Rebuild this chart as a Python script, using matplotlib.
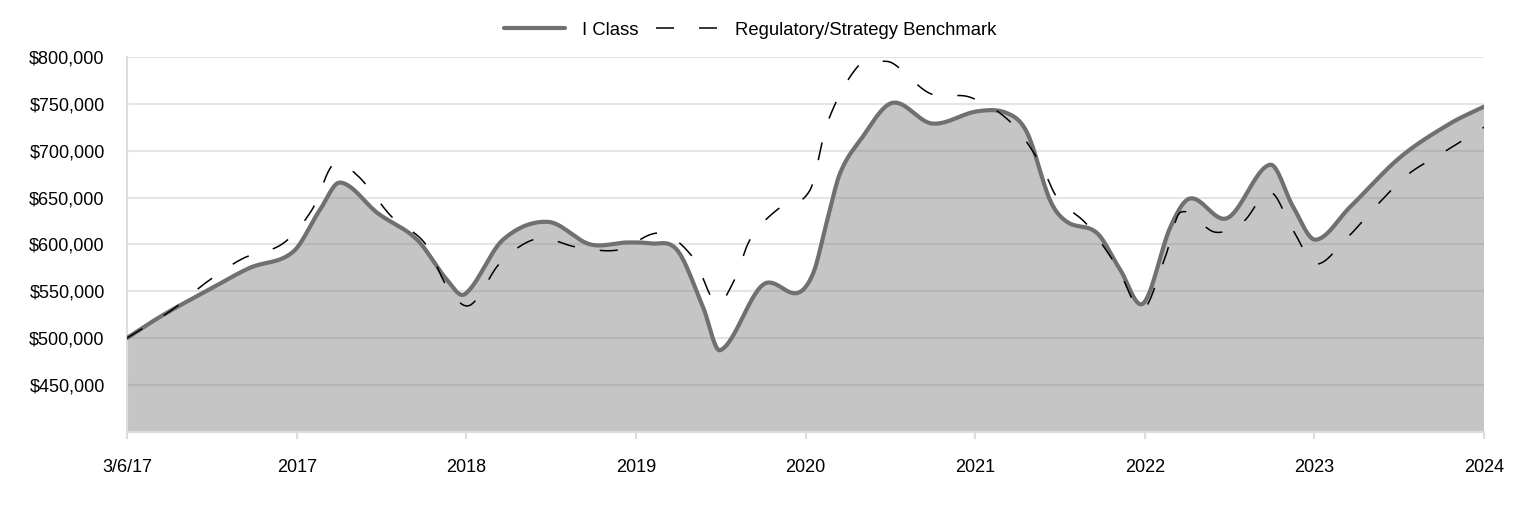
import numpy as np
import matplotlib
matplotlib.use('Agg')
import matplotlib.pyplot as plt

plt.rcParams['font.family'] = ['Liberation Sans', 'DejaVu Sans']
plt.rcParams['lines.scale_dashes'] = False

# x in years since inception (3/6/17), values in $
tick_pos = [0, 1, 2, 3, 4, 5, 6, 7, 8]
tick_labels = ['3/6/17', '2017', '2018', '2019', '2020', '2021', '2022', '2023', '2024']

iclass_x = [0, 0.212, 0.507, 0.725, 0.979, 1.138, 1.256, 1.480, 1.710, 1.887, 1.993,
            2.217, 2.482, 2.730, 2.948, 3.084, 3.243, 3.396, 3.497, 3.750, 3.950,
            4.045, 4.127, 4.204, 4.322, 4.511, 4.746, 5.012, 5.189, 5.307, 5.442, 5.542,
            5.719, 5.855, 5.991, 6.150, 6.268, 6.486, 6.739, 6.875, 7.005, 7.211,
            7.506, 7.800, 8.0]
iclass_y = [500000, 524500, 554000, 575000, 592000, 637000, 666000, 633000, 605000,
            562000, 547000, 605000, 624000, 600000, 602000, 601000, 594000, 533000,
            487000, 557000, 548000, 569000, 625000, 676000, 711000, 751000, 729000, 742000,
            740000, 719000, 647000, 624000, 612000, 573000, 537000, 618000, 649000,
            628000, 685000, 640000, 605000, 640000, 693000, 729000, 747000]

bench_x = [0, 0.265, 0.472, 0.684, 0.920, 1.091, 1.215, 1.356, 1.563, 1.757, 1.893,
           2.022, 2.199, 2.417, 2.653, 2.895, 3.143, 3.337, 3.473, 3.573, 3.673,
           3.833, 4.027, 4.127, 4.304, 4.428, 4.517, 4.735, 4.971, 5.206, 5.383,
           5.483, 5.660, 5.837, 5.985, 6.120, 6.209, 6.415, 6.580, 6.739, 6.875,
           7.005, 7.193, 7.370, 7.547, 7.759, 8.0]
bench_y = [500000, 530000, 560000, 585000, 601000, 637000, 685000, 674000, 629000,
           601000, 553000, 535000, 580000, 606000, 597000, 594000, 612000, 586000,
           537000, 559000, 605000, 637000, 658000, 729000, 789000, 795000, 793000,
           761000, 757000, 731000, 687000, 650000, 621000, 576000, 530000, 586000,
           634000, 613000, 624000, 656000, 615000, 579000, 607000, 642000, 674000,
           698000, 725000]


def smooth(x, y, n=30):
    """cubic hermite with catmull-rom style tangents"""
    x = np.asarray(x, float); y = np.asarray(y, float)
    m = np.zeros_like(y)
    m[1:-1] = (y[2:] - y[:-2]) / (x[2:] - x[:-2])
    m[0] = (y[1] - y[0]) / (x[1] - x[0])
    m[-1] = (y[-1] - y[-2]) / (x[-1] - x[-2])
    xs, ys = [], []
    for i in range(len(x) - 1):
        h = x[i + 1] - x[i]
        t = np.linspace(0, 1, n, endpoint=False)
        h00 = 2*t**3 - 3*t**2 + 1
        h10 = t**3 - 2*t**2 + t
        h01 = -2*t**3 + 3*t**2
        h11 = t**3 - t**2
        xs.append(x[i] + t*h)
        ys.append(h00*y[i] + h10*h*m[i] + h01*y[i+1] + h11*h*m[i+1])
    xs.append([x[-1]]); ys.append([y[-1]])
    return np.concatenate(xs), np.concatenate(ys)


fig = plt.figure(figsize=(15.24, 5.16), dpi=100)
ax = fig.add_axes([127/1524, 1 - 431.7/516, 1357/1524, (431.7 - 57)/516])

line_col = '#707070'
xi, yi = smooth(iclass_x, iclass_y)
xb, yb = smooth(bench_x, bench_y)

ax.fill_between(xi, yi, 0, color=line_col, alpha=0.4, lw=0, zorder=2)
ax.plot(xi, yi, color=line_col, lw=3, solid_capstyle='round', zorder=3, label='I Class')
ax.plot(xb, yb, color='black', lw=1.1, dashes=(13, 18), zorder=4,
        label='Regulatory/Strategy Benchmark')

ax.set_xlim(0, 8)
ax.set_ylim(400000, 800000)
ax.set_yticks(np.arange(450000, 800001, 50000))
ax.set_yticklabels([f'${v:,.0f}' for v in np.arange(450000, 800001, 50000)])
ax.set_xticks(tick_pos)
ax.set_xticklabels(tick_labels)
ax.grid(axis='y', color='#e5e5e5', lw=1.5, zorder=1)
ax.set_axisbelow(True)
for s in ['top', 'right']:
    ax.spines[s].set_visible(False)
ax.spines['left'].set_color('#dddddd')
ax.spines['bottom'].set_color('#dddddd')
ax.spines['left'].set_linewidth(1.5)
ax.spines['bottom'].set_linewidth(1.5)
ax.tick_params(axis='y', length=0, pad=16, labelsize=13)
ax.tick_params(axis='x', length=5, width=1.5, color='#dddddd', pad=15, labelsize=13)

fig.legend(loc='upper center', bbox_to_anchor=(0.492, 0.99), ncol=2, frameon=False,
           fontsize=13.3, handlelength=3.3, handletextpad=0.95, columnspacing=0.95)

fig.savefig('out.png', dpi=100)
